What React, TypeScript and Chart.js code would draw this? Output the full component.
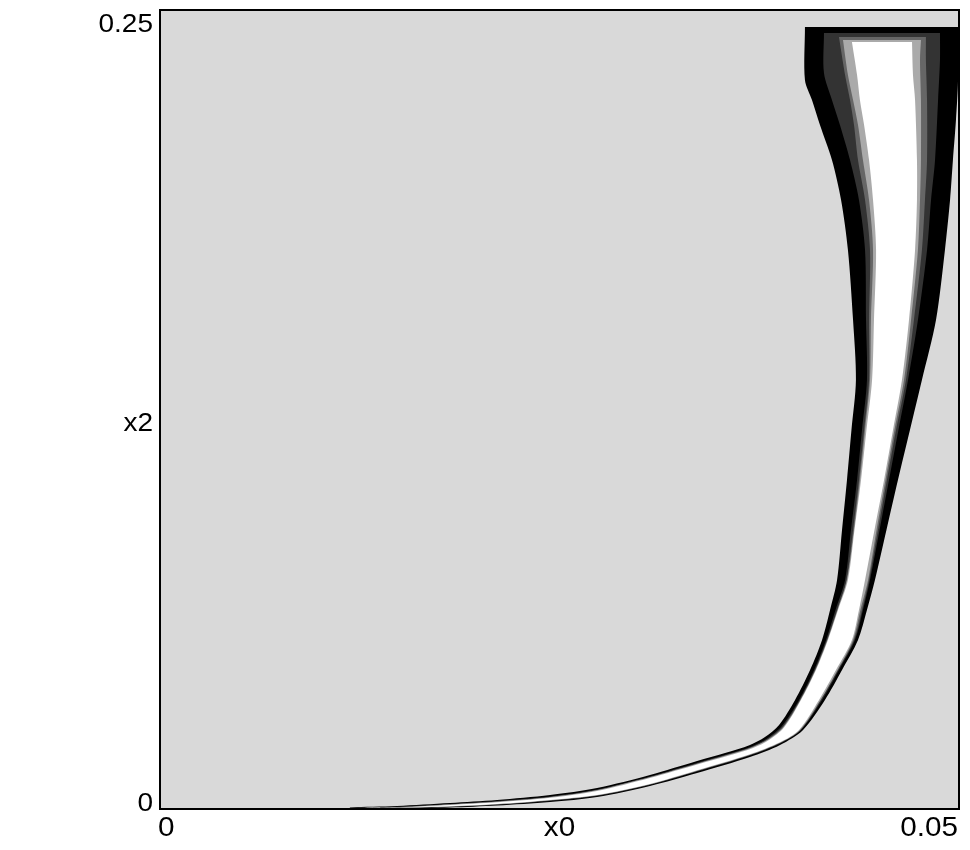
import React, { useEffect, useRef } from "react";
import { Chart, registerables } from "chart.js";

Chart.register(...registerables);

// Axis ranges
const X_MIN = 0;
const X_MAX = 0.05;
const Y_MIN = 0;
const Y_MAX = 0.25;

// Tick labels (the middle one is the variable name)
const xTickValues = [0, 0.025, 0.05];
const xTickLabels = ["0", "x0", "0.05"];
const yTickValues = [0, 0.121, 0.25];
const yTickLabels = ["0", "x2", "0.25"];

// Filled contour levels, innermost first
const levelColors = ["#ffffff", "#aaaaaa", "#666666", "#333333", "#000000"];
const levelNames = ["level 5", "level 4", "level 3", "level 2", "level 1"];

// Region outlines as [x0, x2] pairs
const blackRegion: [number, number][] = [
  [0.04036, 0.24468], [0.04036, 0.2281], [0.0408, 0.22184], [0.0413, 0.21402], [0.04205, 0.20307],
  [0.04262, 0.19055], [0.04305, 0.17491], [0.04337, 0.153], [0.04355, 0.13423], [0.04327, 0.11859],
  [0.04299, 0.10294], [0.04268, 0.0873], [0.04237, 0.07165], [0.04193, 0.06227], [0.04143, 0.05288],
  [0.04068, 0.04349], [0.03974, 0.03411], [0.03874, 0.02628], [0.03786, 0.02253], [0.03692, 0.02003],
  [0.03536, 0.01752], [0.03361, 0.01502], [0.03066, 0.01064],
  [0.02735, 0.00657], [0.02441, 0.00438], [0.02109, 0.00282], [0.01815, 0.00188], [0.01483, 0.00094],
  [0.01189, 0.00047], [0.01189, 0.00016], [0.01483, 0.00016], [0.01815, 0.00047], [0.02109, 0.0011],
  [0.02441, 0.00219], [0.02735, 0.00375], [0.03066, 0.0072], [0.03361, 0.01126], [0.03692, 0.01627],
  [0.0388, 0.02003], [0.04024, 0.02472], [0.04161, 0.03411], [0.04268, 0.04349], [0.04368, 0.05288],
  [0.04424, 0.06227], [0.04474, 0.07165], [0.04546, 0.0873], [0.04618, 0.10294], [0.04693, 0.11859],
  [0.04768, 0.13423], [0.04856, 0.153], [0.04912, 0.17491], [0.04944, 0.19055], [0.04962, 0.20307],
  [0.04981, 0.21558], [0.04994, 0.2281], [0.04994, 0.24468],
];

const darkRegion: [number, number][] = [
  [0.04155, 0.2428], [0.04155, 0.23029], [0.04205, 0.22184], [0.04255, 0.21402], [0.04318, 0.20307],
  [0.04374, 0.19055], [0.04412, 0.17491], [0.04418, 0.153], [0.04424, 0.13423], [0.04393, 0.11859],
  [0.04362, 0.10294], [0.04324, 0.0873], [0.04287, 0.07165], [0.04227, 0.06227], [0.04168, 0.05288],
  [0.04093, 0.04349], [0.03999, 0.03411], [0.03892, 0.02597], [0.03799, 0.02206], [0.03702, 0.01956],
  [0.03542, 0.01705], [0.03367, 0.01455], [0.03066, 0.01017],
  [0.02735, 0.0061], [0.02441, 0.00391], [0.02109, 0.0025], [0.01815, 0.00156], [0.01483, 0.00072],
  [0.01202, 0.00031], [0.01483, 0.00025], [0.01815, 0.00063], [0.02109, 0.00131], [0.02441, 0.0025],
  [0.02735, 0.00407], [0.03066, 0.00751], [0.03361, 0.01173], [0.03692, 0.01674], [0.0388, 0.02049],
  [0.04011, 0.02472], [0.04143, 0.03411], [0.04249, 0.04349], [0.04349, 0.05288], [0.04399, 0.06227],
  [0.04443, 0.07165], [0.04503, 0.0873], [0.04562, 0.10294], [0.04621, 0.11859], [0.04681, 0.13423],
  [0.04743, 0.153], [0.048, 0.17491], [0.04825, 0.19055], [0.0485, 0.20307], [0.04869, 0.22184],
  [0.04881, 0.23436], [0.04881, 0.2428],
];

const midRegion: [number, number][] = [
  [0.04249, 0.24155], [0.04287, 0.22966], [0.04318, 0.22184], [0.04343, 0.21402], [0.04368, 0.20307],
  [0.04412, 0.19055], [0.04443, 0.17491], [0.04437, 0.153], [0.04437, 0.13423], [0.04406, 0.11859],
  [0.04374, 0.10294], [0.04337, 0.0873], [0.04296, 0.07165], [0.04237, 0.06227], [0.04174, 0.05288],
  [0.04099, 0.04349], [0.04005, 0.03411], [0.03899, 0.02581], [0.03805, 0.0219], [0.03705, 0.0194],
  [0.03545, 0.0169], [0.03373, 0.01439], [0.03066, 0.01001],
  [0.02735, 0.00594], [0.02441, 0.00375], [0.02109, 0.00235], [0.01815, 0.00147], [0.01502, 0.00063],
  [0.0122, 0.00031], [0.01502, 0.00031], [0.01815, 0.00069], [0.02109, 0.00141], [0.02441, 0.00266],
  [0.02735, 0.00422], [0.03066, 0.00767], [0.03361, 0.01189], [0.03692, 0.0169], [0.0388, 0.02065],
  [0.04008, 0.02472], [0.04136, 0.03411], [0.04243, 0.04349], [0.04343, 0.05288], [0.04393, 0.06227],
  [0.04437, 0.07165], [0.04493, 0.0873], [0.04549, 0.10294], [0.04606, 0.11859], [0.04668, 0.13423],
  [0.04718, 0.153], [0.04768, 0.17491], [0.04787, 0.19055], [0.048, 0.20307], [0.048, 0.22184],
  [0.04793, 0.23436], [0.04793, 0.24155],
];

const lightRegion: [number, number][] = [
  [0.04274, 0.24061], [0.04305, 0.22966], [0.04337, 0.22184], [0.04368, 0.21402], [0.04399, 0.20307],
  [0.04437, 0.19055], [0.04462, 0.17491], [0.04449, 0.153], [0.04443, 0.13423], [0.04412, 0.11859],
  [0.0438, 0.10294], [0.04343, 0.0873], [0.04299, 0.07165], [0.0424, 0.06227], [0.04177, 0.05288],
  [0.04102, 0.04349], [0.04008, 0.03411], [0.03902, 0.02566], [0.03808, 0.02181], [0.03708, 0.01931],
  [0.03548, 0.0168], [0.03373, 0.0143], [0.03066, 0.00992],
  [0.02735, 0.00585], [0.02441, 0.00366], [0.02109, 0.00225], [0.01815, 0.00141], [0.01502, 0.00056],
  [0.01227, 0.00031], [0.01502, 0.00038], [0.01815, 0.00075], [0.02109, 0.00147], [0.02441, 0.00272],
  [0.02735, 0.00429], [0.03066, 0.00773], [0.03361, 0.01198], [0.03692, 0.01699], [0.0388, 0.02074],
  [0.04005, 0.02472], [0.04133, 0.03411], [0.0424, 0.04349], [0.04337, 0.05288], [0.04383, 0.06227],
  [0.04431, 0.07165], [0.04484, 0.0873], [0.0454, 0.10294], [0.04596, 0.11859], [0.04656, 0.13423],
  [0.047, 0.153], [0.04743, 0.17491], [0.04756, 0.19055], [0.04762, 0.20307], [0.04762, 0.22184],
  [0.04756, 0.23436], [0.04762, 0.24061],
];

const whiteRegion: [number, number][] = [
  [0.0433, 0.23999], [0.04362, 0.22966], [0.0438, 0.22184], [0.04406, 0.21402], [0.04437, 0.20307],
  [0.04462, 0.19055], [0.04481, 0.17491], [0.04468, 0.153], [0.04456, 0.13423], [0.04421, 0.11859],
  [0.04387, 0.10294], [0.04346, 0.0873], [0.04305, 0.07165], [0.04243, 0.06227], [0.0418, 0.05288],
  [0.04105, 0.04349], [0.04011, 0.03411], [0.03905, 0.0255], [0.03811, 0.02159], [0.03711, 0.01909],
  [0.03551, 0.01658], [0.03373, 0.01408], [0.03066, 0.0097],
  [0.02735, 0.00563], [0.02441, 0.0035], [0.02109, 0.0021], [0.01815, 0.00125], [0.01502, 0.0005],
  [0.01239, 0.00031], [0.01502, 0.00044], [0.01815, 0.00084], [0.02109, 0.00156], [0.02441, 0.00282],
  [0.02735, 0.00438], [0.03066, 0.00782], [0.03361, 0.01211], [0.03692, 0.01712], [0.0388, 0.02087],
  [0.03999, 0.02472], [0.04124, 0.03411], [0.0423, 0.04349], [0.0433, 0.05288], [0.04374, 0.06227],
  [0.04412, 0.07165], [0.04471, 0.0873], [0.04531, 0.10294], [0.04587, 0.11859], [0.04643, 0.13423],
  [0.04687, 0.153], [0.04725, 0.17491], [0.04737, 0.19055], [0.04737, 0.20307], [0.04725, 0.22184],
  [0.04712, 0.22966], [0.04706, 0.23999],
];

const regions = [whiteRegion, lightRegion, midRegion, darkRegion, blackRegion];

const FONT = '"Liberation Sans", Arial, Helvetica, sans-serif';

const plotFramePlugin = {
  id: "plotFrame",
  beforeDraw(chart: any) {
    const { ctx, chartArea: a } = chart;
    ctx.save();
    ctx.fillStyle = "#d9d9d9";
    ctx.fillRect(a.left, a.top, a.right - a.left, a.bottom - a.top);
    ctx.restore();
  },
  afterDraw(chart: any) {
    const { ctx, chartArea: a, scales } = chart;
    ctx.save();
    ctx.strokeStyle = "#000000";
    ctx.lineWidth = 2;
    ctx.strokeRect(a.left, a.top, a.right - a.left, a.bottom - a.top);

    ctx.fillStyle = "#000000";
    ctx.textBaseline = "alphabetic";

    // x-axis labels (inner alignment)
    const xs = 27;
    ctx.font = `${xs}px ${FONT}`;
    const xBase = a.bottom + 26.5;
    xTickValues.forEach((v, i) => {
      let px = scales.x.getPixelForValue(v);
      let align: CanvasTextAlign = "center";
      if (i === 0) { align = "left"; px -= 2; }
      else if (i === xTickValues.length - 1) { align = "right"; px -= 1; }
      ctx.save();
      ctx.translate(px, xBase);
      ctx.scale(1.1, 1);
      ctx.textAlign = align;
      ctx.fillText(xTickLabels[i], 0, 0);
      ctx.restore();
    });

    // y-axis labels (inner alignment)
    const ys = 25;
    ctx.font = `${ys}px ${FONT}`;
    const half = (0.716 * ys) / 2;
    yTickValues.forEach((v, i) => {
      let center = scales.y.getPixelForValue(v);
      if (i === 0) center -= 6.5;
      else if (i === yTickValues.length - 1) center += 13.5;
      ctx.save();
      ctx.translate(a.left - 7, center + half);
      ctx.scale(1.12, 1);
      ctx.textAlign = "right";
      ctx.fillText(yTickLabels[i], 0, 0);
      ctx.restore();
    });
    ctx.restore();
  },
};

export default function App() {
  const canvasRef = useRef<HTMLCanvasElement | null>(null);

  useEffect(() => {
    if (!canvasRef.current) return;
    const chart = new Chart(canvasRef.current, {
      type: "line",
      data: {
        datasets: regions.map((pts, i) => ({
          label: levelNames[i],
          data: pts.map(([x, y]) => ({ x, y })),
          backgroundColor: levelColors[i],
          borderColor: "rgba(0,0,0,0)",
          borderWidth: 0,
          pointRadius: 0,
          pointHoverRadius: 0,
          tension: 0.3,
          fill: "shape",
        })),
      },
      options: {
        animation: false,
        responsive: true,
        maintainAspectRatio: false,
        layout: { padding: { left: 152, right: 3, top: 2, bottom: 33 } },
        plugins: { legend: { display: false }, tooltip: { enabled: false } },
        events: [],
        scales: {
          x: { type: "linear", min: X_MIN, max: X_MAX, display: false },
          y: { type: "linear", min: Y_MIN, max: Y_MAX, display: false },
        },
      },
      plugins: [plotFramePlugin],
    });
    return () => chart.destroy();
  }, []);

  return (
    <div style={{ width: 954, height: 834, position: "relative" }}>
      <canvas ref={canvasRef} />
    </div>
  );
}
